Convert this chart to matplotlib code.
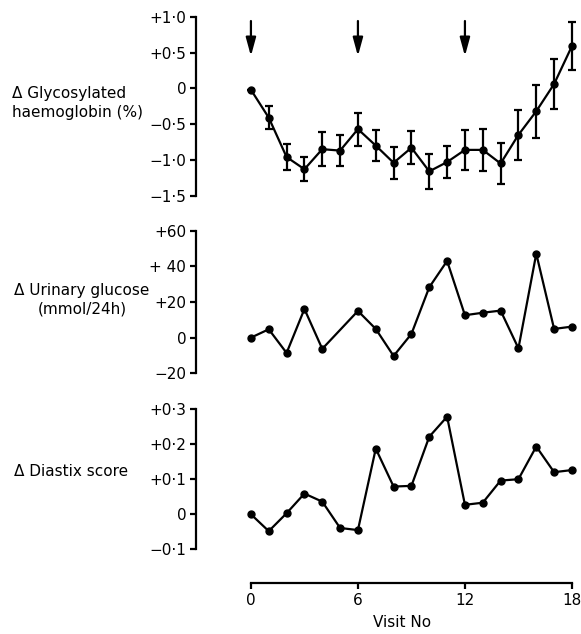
import matplotlib
matplotlib.use("Agg")
import matplotlib.pyplot as plt

# visits 0..18
visits = list(range(19))

# delta glycosylated haemoglobin (%), mean and error bar half-width
hb_mean = [-0.02, -0.41, -0.96, -1.13, -0.85, -0.87, -0.57, -0.80, -1.04, -0.83,
           -1.16, -1.03, -0.86, -0.86, -1.05, -0.65, -0.32, 0.06, 0.59]
hb_err = [0.0, 0.16, 0.18, 0.17, 0.24, 0.22, 0.23, 0.22, 0.22, 0.23,
          0.24, 0.22, 0.28, 0.29, 0.29, 0.35, 0.37, 0.35, 0.34]

# delta urinary glucose (mmol/24h), no value at visit 5
glucose_visits = [0, 1, 2, 3, 4, 6, 7, 8, 9, 10, 11, 12, 13, 14, 15, 16, 17, 18]
glucose = [0.0, 4.7, -8.6, 16.1, -6.3, 15.0, 4.9, -10.3, 2.1, 28.3,
           43.1, 12.6, 14.0, 15.2, -6.0, 47.2, 4.9, 6.2]

# delta diastix score
diastix = [0.0, -0.048, 0.003, 0.059, 0.036, -0.039, -0.045, 0.187, 0.079, 0.081,
           0.221, 0.278, 0.027, 0.033, 0.096, 0.10, 0.193, 0.12, 0.126]

arrow_visits = [0, 6, 12]

hb_ticks = [1.0, 0.5, 0, -0.5, -1.0, -1.5]
hb_ticklabels = ["+1·0", "+0·5", "0", "\u22120·5", "\u22121·0", "\u22121·5"]
glu_ticks = [60, 40, 20, 0, -20]
glu_ticklabels = ["+60", "+ 40", "+20", "0", "\u221220"]
dia_ticks = [0.3, 0.2, 0.1, 0, -0.1]
dia_ticklabels = ["+0·3", "+0·2", "+0·1", "0", "\u22120·1"]
x_ticks = [0, 6, 12, 18]

plt.rcParams['font.family'] = ['DejaVu Sans']
fs = 11
lfs = 11
lw = 1.6

W, H = 581, 634
fig = plt.figure(figsize=(W / 100, H / 100), dpi=100)

left = 196 / W
width = (578 - 196) / W
xlim = (-3.08, 18.34)


def axes_px(top, bottom):
    return fig.add_axes([left, 1 - bottom / H, width, (bottom - top) / H])


def style(ax, ticks, labels):
    for s in ["top", "right", "bottom"]:
        ax.spines[s].set_visible(False)
    ax.spines["left"].set_linewidth(lw)
    ax.spines["left"].set_bounds(min(ticks), max(ticks))
    ax.set_yticks(ticks)
    ax.set_yticklabels(labels, fontsize=fs)
    ax.tick_params(axis="y", direction="out", length=4, width=lw, pad=3)
    ax.set_xlim(*xlim)
    ax.set_xticks([])


# top panel
ax1 = axes_px(10, 200)
ax1.errorbar(visits, hb_mean, yerr=hb_err, color="black", lw=lw, marker="o",
             ms=5, capsize=3, capthick=lw, elinewidth=lw)
ax1.set_ylim(-1.56, 1.094)
style(ax1, hb_ticks, hb_ticklabels)
for v in arrow_visits:
    ax1.annotate("", xy=(v, 0.45), xytext=(v, 0.94),
                 arrowprops=dict(arrowstyle="-|>,head_length=1.1,head_width=0.3",
                                 color="black", lw=lw, mutation_scale=10,
                                 shrinkA=0, shrinkB=0))
fig.text(12 / W, 1 - 103 / H, "\u0394 Glycosylated\nhaemoglobin (%)", fontsize=lfs,
         ha="left", va="center", linespacing=1.3)

# middle panel
ax2 = axes_px(225, 380)
ax2.plot(glucose_visits, glucose, color="black", lw=lw, marker="o", ms=5)
ax2.set_ylim(-23.8, 63.3)
style(ax2, glu_ticks, glu_ticklabels)
fig.text(82 / W, 1 - 300 / H, "\u0394 Urinary glucose\n(mmol/24h)", fontsize=lfs,
         ha="center", va="center", linespacing=1.3, multialignment="center")

# bottom panel
ax3 = axes_px(400, 583.3)
ax3.plot(visits, diastix, color="black", lw=lw, marker="o", ms=5)
ax3.set_ylim(-0.1966, 0.3256)
style(ax3, dia_ticks, dia_ticklabels)
ax3.spines["bottom"].set_visible(True)
ax3.spines["bottom"].set_linewidth(lw)
ax3.spines["bottom"].set_bounds(0, 18)
ax3.set_xticks(x_ticks)
ax3.set_xticklabels([str(t) for t in x_ticks], fontsize=fs)
ax3.tick_params(axis="x", direction="out", length=4, width=lw, pad=3)
ax3.set_xlabel("Visit No", fontsize=fs)
ax3.xaxis.set_label_coords((402 - 196) / (578 - 196), -0.175)
fig.text(14 / W, 1 - 472 / H, "\u0394 Diastix score", fontsize=lfs,
         ha="left", va="center")

fig.savefig("out.png", dpi=100)
